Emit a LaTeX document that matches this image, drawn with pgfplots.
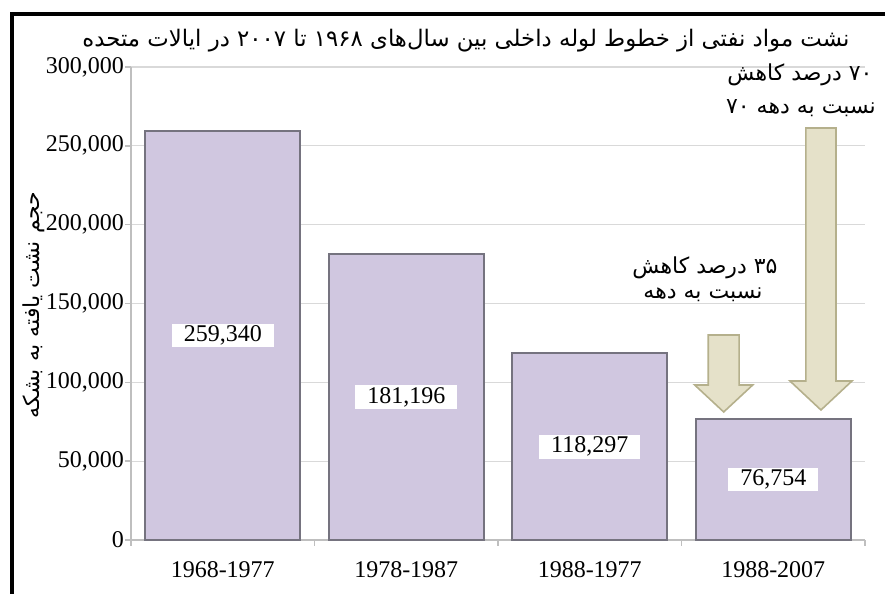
\documentclass[border=0pt]{standalone}
\usepackage{fontspec}
\setmainfont{Liberation Serif}
\newfontfamily\arabicfont[Script=Arabic]{DejaVu Sans}
\TeXXeTstate=1
\usepackage{pgfplots}
\usepackage{pgfplotstable}
\pgfplotsset{compat=1.18}
\definecolor{barfill}{HTML}{D0C7E0}
\definecolor{bardraw}{HTML}{75737F}
\definecolor{arrowfill}{HTML}{E5E1C9}
\definecolor{arrowdraw}{HTML}{B5B08C}
\definecolor{gridc}{HTML}{D9D9D9}
\definecolor{axisc}{HTML}{BFBFBF}
\pgfplotstableread{
x v lab
0 259340 259,340
1 181196 181,196
2 118297 118,297
3 76754 76,754
}\datatable
\begin{document}
\begin{tikzpicture}
\path[use as bounding box] (0,0) rectangle (442.5pt,297pt);
\draw[line width=2pt] (6pt,0) -- (6pt,290pt) -- (442.5pt,290pt);
\begin{axis}[
  at={(65.5pt,27pt)}, anchor=south west,
  width=367pt, height=236.5pt, scale only axis,
  xmin=-0.5, xmax=3.5, ymin=0, ymax=300000,
  scaled y ticks=false,
  ytick={0,50000,100000,150000,200000,250000,300000},
  yticklabels={0,{50,000},{100,000},{150,000},{200,000},{250,000},{300,000}},
  ymajorgrids, major grid style={gridc, line width=0.6pt},
  axis x line*=bottom, axis y line*=left,
  axis line style={axisc, line width=0.8pt},
  xtick={0,1,2,3},
  xticklabels={1968-1977,1978-1987,1988-1977,1988-2007},
  major x tick style={draw=none},
  minor xtick={-0.5,0.5,1.5,2.5,3.5},
  minor x tick style={axisc, line width=0.8pt},
  y tick style={axisc, line width=0.8pt},
  tick align=outside, major tick length=3pt, minor tick length=3pt,
  ticklabel style={font=\fontsize{12}{14}\selectfont},
  xticklabel style={yshift=-4pt},
  yticklabel style={xshift=3pt},
  clip=false,
]
\addplot[ybar, bar width=77.5pt, fill=barfill, draw=bardraw, line width=1pt] table[x=x,y=v]{\datatable};
\addplot[draw=none, nodes near coords={\pgfplotspointmeta}, point meta=explicit symbolic,
  nodes near coords style={anchor=center, fill=white, inner xsep=6pt, inner ysep=1pt, font=\fontsize{12}{14}\selectfont}]
  table[x=x, y expr=\thisrow{v}/2, meta=lab]{\datatable};
\draw[fill=arrowfill, draw=arrowdraw, line width=0.8pt]
  (axis cs:3.178,261300) -- (axis cs:3.178,100850) -- (axis cs:3.091,100850) -- (axis cs:3.26,82450)
  -- (axis cs:3.429,100850) -- (axis cs:3.342,100850) -- (axis cs:3.342,261300) -- cycle;
\draw[fill=arrowfill, draw=arrowdraw, line width=0.8pt]
  (axis cs:2.646,130000) -- (axis cs:2.646,98300) -- (axis cs:2.572,98300) -- (axis cs:2.73,81200)
  -- (axis cs:2.888,98300) -- (axis cs:2.814,98300) -- (axis cs:2.814,130000) -- cycle;
\end{axis}
\node[font=\arabicfont\fontsize{11.4}{13}\selectfont] at (233pt,276.5pt) {\beginR نشت مواد نفتی از خطوط لوله داخلی بین سال‌های ۱۹۶۸ تا ۲۰۰۷ در ایالات متحده\endR};
\node[font=\arabicfont\fontsize{11}{13}\selectfont, rotate=90] at (17pt,144.5pt) {\beginR حجم نشت یافته به بشکه\endR};
\node[font=\arabicfont\fontsize{11}{13}\selectfont] at (400pt,259.5pt) {\beginR ۷۰ درصد کاهش\endR};
\node[font=\arabicfont\fontsize{11}{13}\selectfont] at (400.5pt,243pt) {\beginR نسبت به دهه ۷۰\endR};
\node[font=\arabicfont\fontsize{11}{13}\selectfont] at (352.5pt,163pt) {\beginR ۳۵ درصد کاهش\endR};
\node[font=\arabicfont\fontsize{11}{13}\selectfont] at (351.5pt,149.5pt) {\beginR نسبت به دهه\endR};
\end{tikzpicture}
\end{document}
